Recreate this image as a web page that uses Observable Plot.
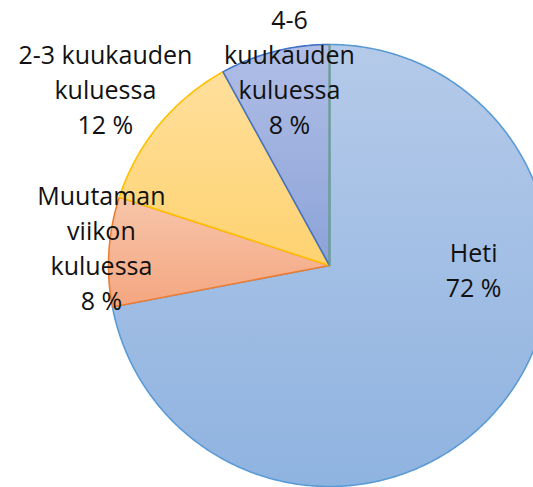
<!DOCTYPE html>
<html>
<head>
<meta charset="utf-8">
<script src="https://cdn.jsdelivr.net/npm/d3@7"></script>
<script src="https://cdn.jsdelivr.net/npm/@observablehq/plot@0.6"></script>
<style>
  html, body { margin: 0; padding: 0; background: #fff; }
  #chart { width: 533px; height: 487px; overflow: hidden; }
</style>
</head>
<body>
<div id="chart"></div>
<script>
// ---- Data ----
const categories = ["Heti", "Muutaman viikon kuluessa", "2-3 kuukauden kuluessa", "4-6 kuukauden kuluessa", "Yli 6 kuukauden kuluessa"];
const values = [72, 8, 12, 8, 0];
const labelLines = [["Heti"], ["Muutaman", "viikon", "kuluessa"], ["2-3 kuukauden", "kuluessa"], ["4-6", "kuukauden", "kuluessa"], null];

// ---- Styles ----
const strokeColors = ["#5b9bd5", "#ed7d31", "#ffc000", "#4472c4", "#70ad47"];
const gradTop = ["#b5cae9", "#f7c5aa", "#ffdf9c", "#b0bee6", "#c5e0b4"];
const gradBottom = ["#8fb3e0", "#f4a680", "#fed270", "#8ca3d8", "#a9d18e"];

// ---- Layout (radius units, centre = 0,0) ----
const cxPx = 329, cyPx = 265, rPx = 221, W = 533, H = 487;
const labelPos = [[0.652, -0.011], [-1.032, 0.087], [-1.014, 0.803], [-0.181, 0.882], null];

// Pie geometry from data (clockwise from 12 o'clock)
const total = d3.sum(values);
const slices = [];
let acc = 0;
values.forEach((v, i) => {
  const a0 = acc / total * 2 * Math.PI;
  acc += v;
  const a1 = acc / total * 2 * Math.PI;
  const pts = [{x: 0, y: 0}];
  const n = Math.max(1, Math.ceil((a1 - a0) / (Math.PI / 360)));
  for (let k = 0; k <= n; k++) {
    const a = a0 + (a1 - a0) * k / n;
    pts.push({x: Math.sin(a), y: Math.cos(a)});
  }
  pts.push({x: 0, y: 0});
  slices.push({i, v, pts});
});

const labels = categories.map((c, i) => labelLines[i] ? {
  x: labelPos[i][0], y: labelPos[i][1],
  text: labelLines[i].concat([`${values[i]} %`]).join("\n")
} : null).filter(d => d);

const marks = [];
slices.forEach(s => {
  marks.push(Plot.line(s.pts, {
    x: "x", y: "y",
    fill: s.v > 0 ? `url(#grad${s.i})` : "none",
    stroke: strokeColors[s.i],
    strokeWidth: 1.6,
    strokeLinejoin: "round"
  }));
});
marks.push(Plot.text(labels, {
  x: "x", y: "y", text: "text",
  fontSize: 25, lineHeight: 1.4, lineAnchor: "middle",
  fill: "#111", fontFamily: "Open Sans"
}));

const plot = Plot.plot({
  width: W, height: H,
  margin: 0,
  x: {domain: [-cxPx / rPx, (W - cxPx) / rPx], axis: null},
  y: {domain: [-(H - cyPx) / rPx, cyPx / rPx], axis: null},
  style: {fontFamily: "Open Sans", background: "white", overflow: "hidden"},
  marks
});

// gradient defs
const ns = "http://www.w3.org/2000/svg";
const defs = document.createElementNS(ns, "defs");
values.forEach((v, i) => {
  const g = document.createElementNS(ns, "linearGradient");
  g.setAttribute("id", `grad${i}`);
  g.setAttribute("x1", "0"); g.setAttribute("y1", "0");
  g.setAttribute("x2", "0"); g.setAttribute("y2", "1");
  [[0, gradTop[i]], [1, gradBottom[i]]].forEach(([o, c]) => {
    const st = document.createElementNS(ns, "stop");
    st.setAttribute("offset", o);
    st.setAttribute("stop-color", c);
    g.appendChild(st);
  });
  defs.appendChild(g);
});
plot.insertBefore(defs, plot.firstChild);
document.getElementById("chart").appendChild(plot);
</script>
</body>
</html>
